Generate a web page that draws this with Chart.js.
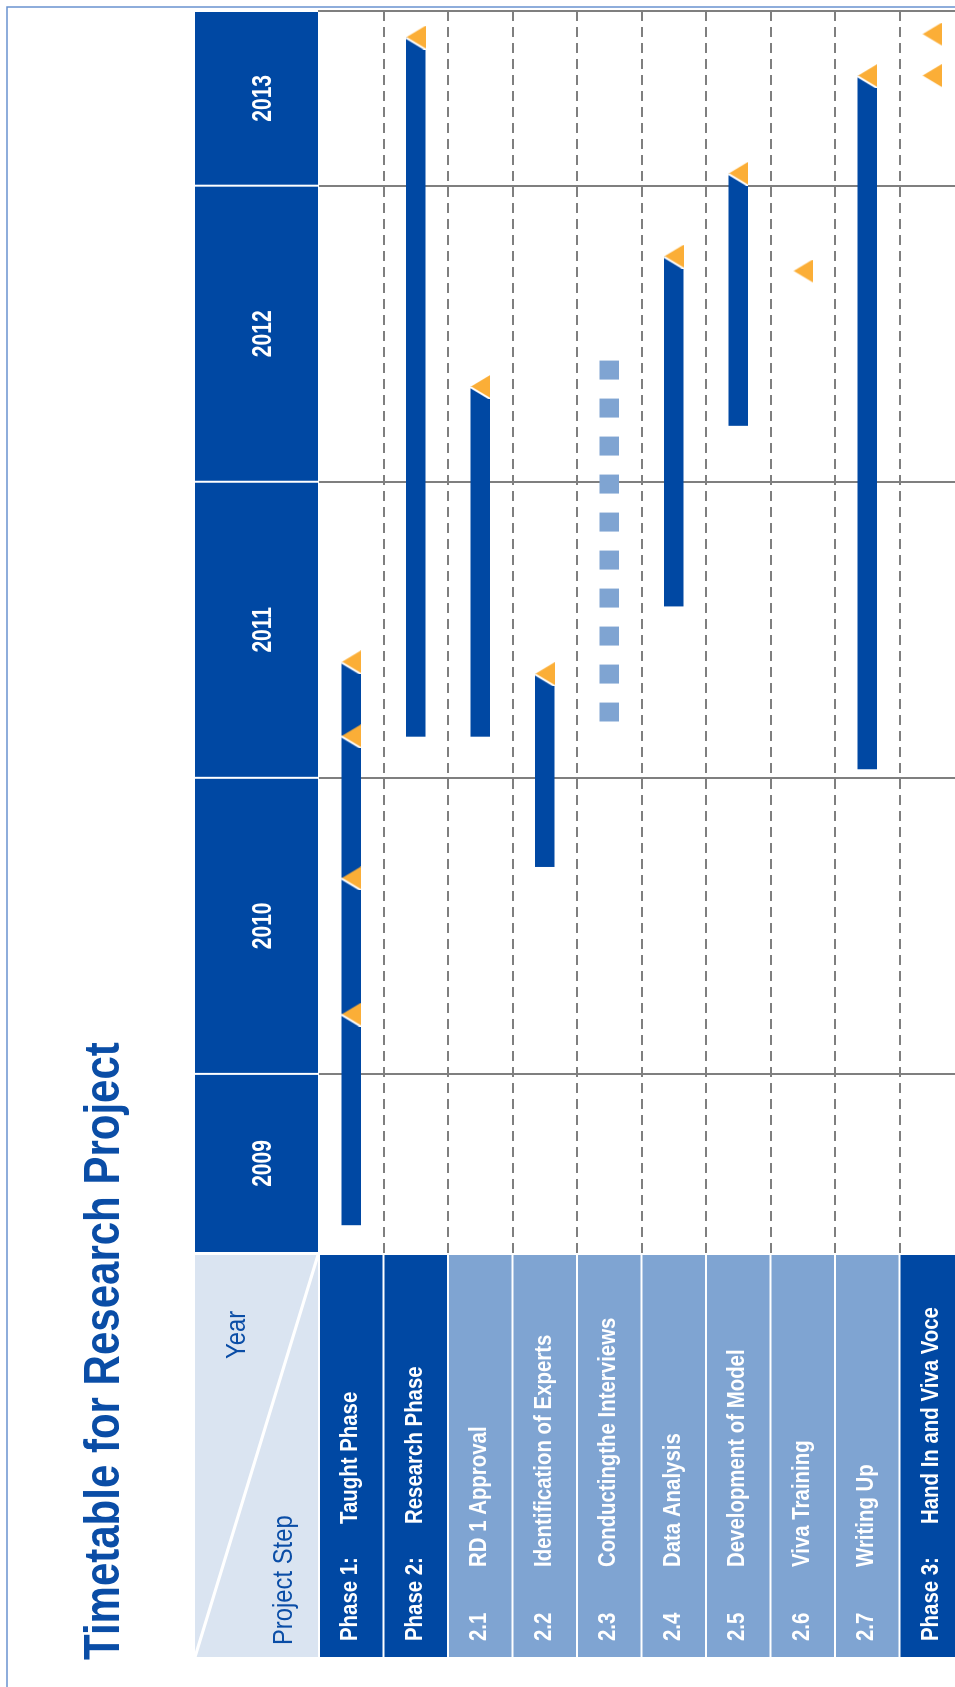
<!DOCTYPE html>
<html>
<head>
<meta charset="utf-8">
<title>Timetable for Research Project</title>
<script src="https://cdn.jsdelivr.net/npm/chart.js@4.4.1/dist/chart.umd.min.js"></script>
<style>
  html, body { margin: 0; padding: 0; background: #fff; }
  #page { position: relative; width: 955px; height: 1687px; overflow: hidden; }
  /* the timetable is laid out landscape and turned onto its side */
  #gantt { position: absolute; left: 0; top: 0; transform-origin: 0 0;
           transform: translate(0, 1687px) rotate(-90deg); }
</style>
</head>
<body>
<div id="page"><canvas id="gantt" width="1687" height="975"></canvas></div>
<script>
// project steps
var STEP_NUMBERS = ['Phase 1:', 'Phase 2:', '2.1', '2.2', '2.3', '2.4', '2.5', '2.6', '2.7', 'Phase 3:'];
var STEP_NAMES = ['Taught Phase', 'Research Phase', 'RD 1 Approval', 'Identification of Experts',
                  'Conductingthe Interviews', 'Data Analysis', 'Development of Model',
                  'Viva Training', 'Writing Up', 'Hand In and Viva Voce'];
var IS_PHASE = [true, true, false, false, false, false, false, false, false, true];

// start / end of each step in decimal years (null = no bar)
var BAR_START = [2009.49, 2011.14, 2011.14, 2010.70, 2011.19, 2011.58, 2012.19, null, 2011.03, null];
var BAR_END   = [2011.39, 2013.50, 2012.32, 2011.35, 2012.41, 2012.76, 2013.04, null, 2013.37, null];
var DOTTED_STEP = 4;   // interviews are shown as a dotted bar

// milestones (orange triangles)
var MILESTONE_STEP = [0, 0, 0, 0, 1, 2, 3, 5, 6, 7, 8, 9, 9];
var MILESTONE_DATE = [2010.20, 2010.66, 2011.14, 2011.39, 2013.50, 2012.32, 2011.35,
                      2012.76, 2013.04, 2012.71, 2013.37, 2013.37, 2013.51];

var YEARS = [2009, 2010, 2011, 2012, 2013];
var TIME_MIN = 2009.395, TIME_MAX = 2013.59;

var DARK = '#0048A3', LIGHT = '#7FA4D2', HEADER = '#DAE4F1', ORANGE = '#FBAE37';
var GRID = '#7F7F7F', FRAME = '#6A93CF', TITLE = '#0A4DA6';
var FONT = '"Liberation Sans", Arial, sans-serif';

function narrowText(ctx, text, x, y, size, weight, color, squeeze, align) {
  ctx.save();
  ctx.font = weight + ' ' + size + 'px ' + FONT;
  ctx.fillStyle = color;
  ctx.textAlign = align || 'left';
  ctx.textBaseline = 'alphabetic';
  ctx.translate(x, y);
  ctx.scale(squeeze, 1);
  ctx.fillText(text, 0, 0);
  ctx.restore();
}

function triangleMark() {
  var c = document.createElement('canvas');
  c.width = 24; c.height = 20;
  var g = c.getContext('2d');
  g.beginPath(); g.moveTo(12, 0); g.lineTo(24, 20); g.lineTo(0, 20); g.closePath();
  g.fillStyle = ORANGE; g.fill();
  g.beginPath(); g.moveTo(12, 0); g.lineTo(0, 20);
  g.strokeStyle = '#fff'; g.lineWidth = 2; g.stroke();
  return c;
}

function stepFill(c) {
  if (c.dataIndex !== DOTTED_STEP) return DARK;
  var xs = c.chart.scales.x;
  var tile = document.createElement('canvas');
  tile.width = 38; tile.height = 1;
  var t = tile.getContext('2d');
  t.fillStyle = LIGHT; t.fillRect(0, 0, 19, 1);
  var pat = c.chart.ctx.createPattern(tile, 'repeat');
  pat.setTransform(new DOMMatrix().translate(xs.getPixelForValue(BAR_START[DOTTED_STEP]), 0));
  return pat;
}

var barRanges = BAR_START.map(function (s, i) { return s === null ? null : [s, BAR_END[i]]; });
var milestonePoints = MILESTONE_STEP.map(function (s, i) {
  return { x: MILESTONE_DATE[i], y: STEP_NAMES[s] };
});

// title, year header, step column and frame
var tableDecor = {
  id: 'tableDecor',
  afterDraw: function (chart) {
    var ctx = chart.ctx, area = chart.chartArea;
    var xs = chart.scales.x, ys = chart.scales.y;
    var band = (ys.bottom - ys.top) / STEP_NAMES.length;
    var colLeft = 30, colRight = area.left - 2, headTop = 195, headBottom = area.top - 1;

    narrowText(ctx, 'Timetable for Research Project', 27, 119, 50, 'bold', TITLE, 0.84);

    // year cells
    YEARS.forEach(function (yr) {
      var a = Math.max(xs.getPixelForValue(yr), area.left);
      var b = Math.min(xs.getPixelForValue(yr + 1), area.right);
      ctx.fillStyle = DARK;
      ctx.fillRect(a + 1, headTop, b - a - 2, headBottom - headTop);
      narrowText(ctx, String(yr), (a + b) / 2, 271, 27, 'bold', '#fff', 0.78, 'center');
    });

    // corner cell
    ctx.fillStyle = HEADER;
    ctx.fillRect(colLeft, headTop, colRight - colLeft, headBottom - headTop);
    ctx.save();
    ctx.strokeStyle = '#fff'; ctx.lineWidth = 3;
    ctx.beginPath(); ctx.moveTo(colLeft, headTop); ctx.lineTo(colRight, headBottom); ctx.stroke();
    ctx.restore();
    narrowText(ctx, 'Year', 328, 245, 28, 'normal', TITLE, 0.85);
    narrowText(ctx, 'Project Step', 42, 292, 28, 'normal', TITLE, 0.85);

    // step cells
    STEP_NAMES.forEach(function (name, i) {
      var mid = ys.getPixelForValue(i);
      var top = mid - band / 2;
      ctx.fillStyle = IS_PHASE[i] ? DARK : LIGHT;
      ctx.fillRect(colLeft, top + 1, colRight - colLeft, band - 2);
      narrowText(ctx, STEP_NUMBERS[i], 46, mid + 6, 24, 'bold', '#fff', 0.85);
      narrowText(ctx, name, IS_PHASE[i] ? 163 : 120, mid + 6, 24, 'bold', '#fff', 0.85);
    });

    // outer frame
    ctx.save();
    ctx.strokeStyle = FRAME; ctx.lineWidth = 1.5;
    ctx.beginPath();
    ctx.moveTo(0, 7); ctx.lineTo(1680, 7); ctx.lineTo(1680, chart.height);
    ctx.stroke();
    ctx.restore();
  }
};

new Chart(document.getElementById('gantt'), {
  type: 'bar',
  data: {
    labels: STEP_NAMES,
    datasets: [
      { type: 'scatter', label: 'Milestones', data: milestonePoints,
        pointStyle: triangleMark(), pointRadius: 10, order: 0 },
      { type: 'bar', label: 'Steps', data: barRanges, backgroundColor: stepFill,
        barThickness: 19, borderWidth: 0, order: 1 }
    ]
  },
  options: {
    indexAxis: 'y',
    responsive: false,
    animation: false,
    devicePixelRatio: 1,
    layout: { padding: { left: 434, right: 10, top: 319, bottom: 11 } },
    plugins: { legend: { display: false }, tooltip: { enabled: false } },
    scales: {
      x: {
        type: 'linear', position: 'top', min: TIME_MIN, max: TIME_MAX,
        bounds: 'data', beginAtZero: false, offset: false,
        afterBuildTicks: function (s) {
          s.ticks = YEARS.slice(1).map(function (v) { return { value: v }; });
        },
        ticks: { display: false },
        grid: { color: GRID, lineWidth: 2, drawTicks: false },
        border: { display: false }
      },
      y: {
        type: 'category', position: 'right', offset: true,
        ticks: { display: false },
        grid: {
          offset: true, drawTicks: false, lineWidth: 2,
          color: function (c) { return c.index === 0 ? 'rgba(0,0,0,0)' : GRID; }
        },
        border: { display: true, color: GRID, width: 2, dash: [10, 6] }
      }
    }
  },
  plugins: [tableDecor]
});
</script>
</body>
</html>
